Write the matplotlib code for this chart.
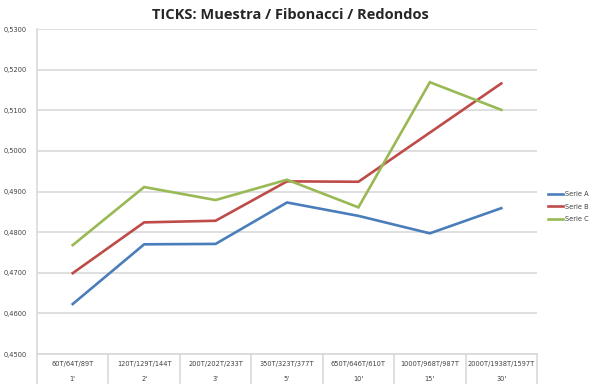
import matplotlib
matplotlib.use("Agg")
import matplotlib.pyplot as plt
from matplotlib.transforms import blended_transform_factory

categories_top = ["60T/64T/89T", "120T/129T/144T", "200T/202T/233T", "350T/323T/377T",
                  "650T/646T/610T", "1000T/968T/987T", "2000T/1938T/1597T"]
categories_bottom = ["1'", "2'", "3'", "5'", "10'", "15'", "30'"]
serie_a = [0.4623, 0.4770, 0.4771, 0.4873, 0.4840, 0.4797, 0.4859]
serie_b = [0.4699, 0.4824, 0.4828, 0.4925, 0.4924, 0.5045, 0.5166]
serie_c = [0.4768, 0.4911, 0.4879, 0.4929, 0.4861, 0.5169, 0.5101]
y_ticks = [0.45, 0.46, 0.47, 0.48, 0.49, 0.50, 0.51, 0.52, 0.53]
series_names = ["Serie A", "Serie B", "Serie C"]
colors = ["#4a7ebb", "#be4b48", "#98b954"]

fig = plt.figure(figsize=(5.97, 3.90), dpi=100)
ax = fig.add_axes([0.062, 0.0923, 0.8375, 0.8333])
x = list(range(len(categories_top)))
for vals, name, c in zip([serie_a, serie_b, serie_c], series_names, colors):
    ax.plot(x, vals, color=c, lw=1.9, label=name, solid_joinstyle="miter")

ax.set_xlim(-0.5, len(x) - 0.5)
ax.set_ylim(0.45, 0.53)
ax.set_yticks(y_ticks)
ax.set_yticklabels([f"{v:.4f}".replace(".", ",") for v in y_ticks], fontsize=4.8, color="#404040")
ax.yaxis.grid(True, color="#d9d9d9", lw=1.2)
ax.set_axisbelow(True)
ax.tick_params(axis="y", length=0, pad=7.5)
ax.set_xticks([])
for s in ["top", "right"]:
    ax.spines[s].set_visible(False)
ax.spines["left"].set_color("#d9d9d9")
ax.spines["left"].set_linewidth(1.2)
ax.spines["bottom"].set_color("#d9d9d9")
ax.spines["bottom"].set_linewidth(1.2)

trans = blended_transform_factory(ax.transData, ax.transAxes)
for b in [i - 0.5 for i in range(len(x) + 1)]:
    ax.plot([b, b], [0, -0.0895], transform=trans, color="#d9d9d9", lw=1.2, clip_on=False)
for i in x:
    ax.text(i, -0.03, categories_top[i], transform=trans, ha="center", va="center",
            fontsize=4.8, color="#404040")
    ax.text(i, -0.077, categories_bottom[i], transform=trans, ha="center", va="center",
            fontsize=4.8, color="#404040")

fig.text(0.487, 0.962, "TICKS: Muestra / Fibonacci / Redondos", ha="center", va="center",
         fontsize=10.5, fontweight="bold", color="#262626", family="Open Sans")

leg = ax.legend(loc="upper left", bbox_to_anchor=(1.017, 0.51), frameon=False,
                fontsize=4.8, handlelength=2.2, handletextpad=0.3, labelspacing=1.0,
                borderaxespad=0)
for t in leg.get_texts():
    t.set_color("#404040")

fig.savefig("out.png", dpi=100, facecolor="white")
